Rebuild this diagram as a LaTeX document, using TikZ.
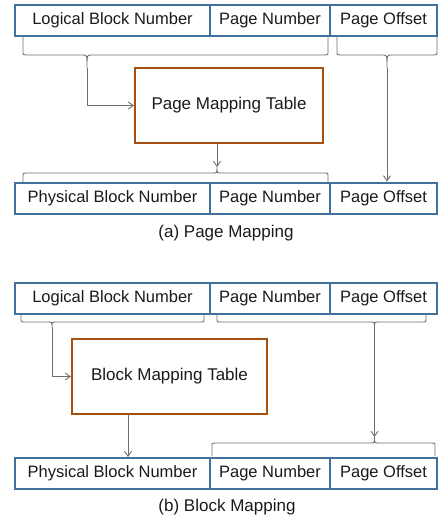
\documentclass[tikz,border=0pt]{standalone}
\usepackage{fontspec}
\setmainfont{Liberation Sans}
\usetikzlibrary{arrows.meta}
\definecolor{cellblue}{HTML}{41719C}
\definecolor{tablebrown}{HTML}{A5500F}
\definecolor{wire}{HTML}{6F6F6F}
\definecolor{ink}{HTML}{1A1A1A}
% curly bracket: x-left, x-right, x-tip, y-ends, y-bar, y-tip, tip name
\newcommand\curlybrk[7]{%
  \draw[bracket] (#1,#4) -- ({#1},{#5+0.25*(#4-#5)}) .. controls (#1,#5) .. ({#1+3},#5)
    -- ({#3-4},#5) .. controls (#3,#5) .. (#3,#6) .. controls (#3,#5) .. ({#3+4},#5)
    -- ({#2-3},#5) .. controls (#2,#5) .. ({#2},{#5+0.25*(#4-#5)}) -- (#2,#4);
  \coordinate (#7) at (#3,#6);}
\begin{document}
\begin{tikzpicture}[x=1pt,y=-1pt,
  cell/.style={draw=cellblue,line width=2pt,rectangle,minimum height=31pt,
    inner sep=0pt,text=ink,font=\fontsize{16.5}{19}\selectfont},
  maptable/.style={draw=tablebrown,line width=2pt,rectangle,minimum width=#1,
    minimum height=75pt,inner sep=0pt,text=ink,font=\fontsize{17}{20}\selectfont},
  caption/.style={text=ink,inner sep=0pt,font=\fontsize{17}{20}\selectfont},
  bracket/.style={draw=wire,line width=0.9pt},
  wirearrow/.style={draw=wire,line width=0.9pt,-{Straight Barb[length=5pt,width=7pt]}},
  wireline/.style={draw=wire,line width=0.9pt}]
\useasboundingbox (0,0) rectangle (438,517);

% ---------- (a) page mapping ----------
\node[cell,minimum width=195pt] (la) at (112.5,20.5) {Logical Block Number};
\node[cell,minimum width=120pt] (lpa) at (270,20.5) {Page Number};
\node[cell,minimum width=107pt] (loa) at (383.5,20.5) {Page Offset};

\curlybrk{23}{328}{87}{37}{55}{68}{ta1}
\curlybrk{337}{437}{387}{37}{55}{68}{ta2}

\node[maptable=188pt] (pmt) at (229,105.5) {Page Mapping Table};

\curlybrk{23}{328}{217}{183}{173}{167}{ta3}

\node[cell,minimum width=195pt] (pa) at (112.5,198) {Physical Block Number};
\node[cell,minimum width=120pt] (ppa) at (270,198) {Page Number};
\node[cell,minimum width=107pt] (poa) at (383.5,198) {Page Offset};

\draw[wirearrow] (ta1) |- (pmt.west);
\draw[wirearrow] (ta2) -- (ta2 |- poa.north);
\draw[wirearrow] (ta3 |- pmt.south) -- (ta3);

\node[caption] (capa) at (226,233) {(a) Page Mapping};

% ---------- (b) block mapping ----------
\node[cell,minimum width=195pt] (lb) at (112.5,298) {Logical Block Number};
\node[cell,minimum width=120pt] (lpb) at (270,298) {Page Number};
\node[cell,minimum width=107pt] (lob) at (383.5,298) {Page Offset};

\curlybrk{21}{204}{52}{314}{322}{327}{tb1}
\curlybrk{217}{426}{374.5}{314}{322}{327}{tb2}

\node[maptable=195pt] (bmt) at (169.5,376.5) {Block Mapping Table};

\curlybrk{212}{435}{374.5}{456}{443}{437}{tb3}

\node[cell,minimum width=195pt] (pb) at (112.5,473.5) {Physical Block Number};
\node[cell,minimum width=120pt] (ppb) at (270,473.5) {Page Number};
\node[cell,minimum width=107pt] (pob) at (383.5,473.5) {Page Offset};

\draw[wirearrow] (tb1) |- (bmt.west);
\draw[wirearrow] (tb2) -- (tb3);
\coordinate (bdrop) at (128,414);
\draw[wirearrow] (bdrop |- bmt.south) -- (bdrop |- pb.north);

\node[caption] (capb) at (227,507) {(b) Block Mapping};
\end{tikzpicture}
\end{document}
